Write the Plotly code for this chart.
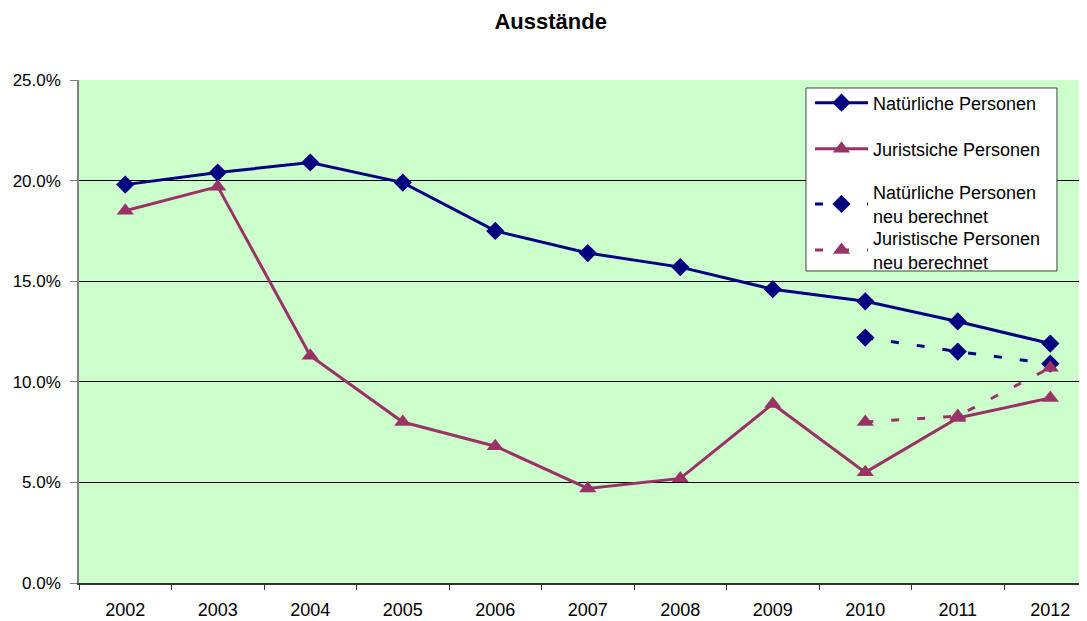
import plotly.graph_objects as go

years = ["2002", "2003", "2004", "2005", "2006", "2007", "2008", "2009", "2010", "2011", "2012"]
nat = [0.198, 0.204, 0.209, 0.199, 0.175, 0.164, 0.157, 0.146, 0.140, 0.130, 0.119]
jur = [0.185, 0.197, 0.113, 0.080, 0.068, 0.047, 0.052, 0.089, 0.055, 0.082, 0.092]
years_neu = ["2010", "2011", "2012"]
nat_neu = [0.122, 0.115, 0.109]
jur_neu = [0.080, 0.083, 0.107]

NAVY = "#000080"
PURPLE = "#993366"
DASH = "8px,18px"

fig = go.Figure()
fig.add_trace(go.Scatter(x=years, y=nat, name="Natürliche Personen", mode="lines+markers",
                         line=dict(color=NAVY, width=3), marker=dict(symbol="diamond", size=14, color=NAVY),
                         legend="legend"))
fig.add_trace(go.Scatter(x=years, y=jur, name="Juristsiche Personen", mode="lines+markers",
                         line=dict(color=PURPLE, width=3), marker=dict(symbol="triangle-up", size=15, color=PURPLE),
                         legend="legend2"))
fig.add_trace(go.Scatter(x=years_neu, y=nat_neu, name="Natürliche Personen<br>neu berechnet", mode="lines+markers",
                         line=dict(color=NAVY, width=3, dash=DASH), marker=dict(symbol="diamond", size=14, color=NAVY),
                         legend="legend3"))
fig.add_trace(go.Scatter(x=years_neu, y=jur_neu, name="Juristische Personen<br>neu berechnet", mode="lines+markers",
                         line=dict(color=PURPLE, width=3, dash=DASH), marker=dict(symbol="triangle-up", size=15, color=PURPLE),
                         legend="legend4"))

leg_common = dict(x=0.7252, xanchor="left", yanchor="middle", bgcolor="rgba(0,0,0,0)",
                  borderwidth=0, font=dict(size=18), itemwidth=53)

fig.update_layout(
    width=1079, height=613,
    margin=dict(l=71, r=0, t=72, b=38, autoexpand=False),
    paper_bgcolor="white",
    plot_bgcolor="#CCFFCC",
    font=dict(family="Liberation Sans, Arial, sans-serif", size=18, color="black"),
    title=dict(text="<b>Ausstände</b>", x=0.503, xref="container", y=0.979, yref="container",
               xanchor="center", yanchor="middle", font=dict(size=22)),
    showlegend=True,
    legend=dict(y=0.9543, **leg_common),
    legend2=dict(y=0.8628, **leg_common),
    legend3=dict(y=0.7535, **leg_common),
    legend4=dict(y=0.6620, **leg_common),
    shapes=[dict(type="rect", xref="paper", yref="paper", x0=0.7212, x1=0.9702, y0=0.6203, y1=0.9841,
                 fillcolor="white", line=dict(color="#404040", width=1), layer="above")],
    xaxis=dict(type="category", categoryorder="array", categoryarray=years,
               range=[-0.5, 10.397], showgrid=False,
               showline=True, linecolor="#333333", linewidth=1.5,
               ticks="outside", tickson="boundaries", ticklen=5, tickcolor="#333333",
               ticklabelstandoff=10, tickfont=dict(size=18)),
    yaxis=dict(range=[0, 0.25], dtick=0.05, tickformat=".1%",
               showgrid=True, gridcolor="black", gridwidth=1,
               showline=True, linecolor="#808080", linewidth=1.5,
               ticks="outside", ticklen=7, tickcolor="#808080",
               ticklabelstandoff=6, zeroline=False, tickfont=dict(size=17)),
)

fig.write_html("out.html")
